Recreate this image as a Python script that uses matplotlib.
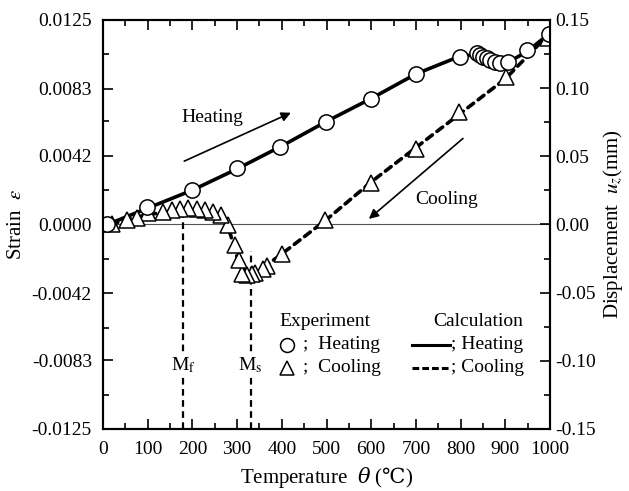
import matplotlib.pyplot as plt
from matplotlib.lines import Line2D
from matplotlib.ticker import MultipleLocator, FixedLocator

plt.rcParams['font.family'] = ['Liberation Serif', 'DejaVu Serif']
plt.rcParams['mathtext.fontset'] = 'stix'

# experiment - heating (circles)
heat_T = [10, 98, 198, 299, 397, 499, 600, 700, 799, 836, 843, 850, 858, 866, 877, 888, 906, 948, 998]
heat_eps = [0.0, 0.00109, 0.0021, 0.00345, 0.00476, 0.00628, 0.00767, 0.00918, 0.01026, 0.01046,
            0.01036, 0.01026, 0.01016, 0.01005, 0.00995, 0.00989, 0.00995, 0.01067, 0.01164]

# experiment - cooling (triangles)
cool_T = [996, 902, 797, 700, 599, 497, 400, 366, 358, 340, 333, 321, 310, 304, 295, 280,
          265, 247, 228, 210, 191, 172, 154, 135, 101, 75, 53, 19]
cool_eps = [0.0114, 0.0090, 0.0069, 0.00461, 0.00253, 0.00027, -0.0018, -0.00254, -0.0027, -0.00298,
            -0.0030, -0.0031, -0.0030, -0.00217, -0.00125, -0.00003,
            0.00058, 0.00078, 0.00089, 0.00093, 0.00099, 0.00093, 0.00089, 0.00078, 0.00068,
            0.00038, 0.00028, 0.0]

# calculation
calc_heat_T = [10, 100, 200, 300, 400, 500, 600, 700, 800, 850, 906, 950, 1000]
calc_heat_eps = [0.0, 0.0010, 0.0021, 0.0034, 0.0048, 0.0063, 0.0077, 0.0092, 0.0103, 0.0104,
                 0.0099, 0.0106, 0.0117]
calc_cool_T = [1000, 900, 800, 700, 600, 500, 400, 340, 320, 300, 285, 270, 250, 200, 150, 100, 50, 20]
calc_cool_eps = [0.0117, 0.0089, 0.0068, 0.0047, 0.0026, 0.0003, -0.0018, -0.0030, -0.0030, -0.0020,
                 -0.0006, 0.0004, 0.0007, 0.0009, 0.0008, 0.0006, 0.0003, 0.0]

Mf, Ms = 180, 330
eps_ticks = [-0.0125, -0.0083, -0.0042, 0.0, 0.0042, 0.0083, 0.0125]
eps_labels = ['-0.0125', '-0.0083', '-0.0042', '0.0000', '0.0042', '0.0083', '0.0125']
uz_ticks = [-0.15, -0.10, -0.05, 0.0, 0.05, 0.10, 0.15]
uz_labels = ['-0.15', '-0.10', '-0.05', '0.00', '0.05', '0.10', '0.15']

fig = plt.figure(figsize=(6.29, 4.91), dpi=100)
ax = fig.add_axes([0.1638, 0.1263, 0.7106, 0.8330])
ax2 = ax.twinx()

ax.axhline(0, color='#555555', lw=0.8, zorder=1)

ax.plot(calc_heat_T, calc_heat_eps, color='black', lw=2.6, zorder=2)
ax.plot(calc_cool_T, calc_cool_eps, color='black', lw=2.6, ls=(0, (2.0, 1.6)),
        dash_capstyle='round', zorder=2)
ax.plot(heat_T, heat_eps, ls='none', marker='o', ms=11, mfc='white', mec='black', mew=1.1, zorder=4)
ax.plot(cool_T, cool_eps, ls='none', marker='^', ms=11, mfc='white', mec='black', mew=1.1, zorder=3)

# transformation temperatures
ax.plot([Mf, Mf], [-0.0125, 0.0010], color='black', lw=1.6, ls=(0, (3, 2)), zorder=1)
ax.plot([Ms, Ms], [-0.0125, -0.0016], color='black', lw=1.6, ls=(0, (3, 2)), zorder=1)
ax.text(Mf, -0.0086, r'M$_\mathrm{f}$', ha='center', va='center', fontsize=14,
        bbox=dict(fc='white', ec='none', pad=1.5), zorder=5)
ax.text(Ms, -0.0086, r'M$_\mathrm{s}$', ha='center', va='center', fontsize=14,
        bbox=dict(fc='white', ec='none', pad=1.5), zorder=5)

# arrows
ax.annotate('', xy=(426, 0.0069), xytext=(176, 0.0038),
            arrowprops=dict(arrowstyle='-|>', color='black', lw=1.2, mutation_scale=14))
ax.text(244, 0.00656, 'Heating', ha='center', va='center', fontsize=14)
ax.annotate('', xy=(590, 0.00023), xytext=(810, 0.00537),
            arrowprops=dict(arrowstyle='-|>', color='black', lw=1.2, mutation_scale=14))
ax.text(769, 0.0015, 'Cooling', ha='center', va='center', fontsize=14)

# legend
tr = ax.transAxes
ax.text(0.394, 0.262, 'Experiment', transform=tr, fontsize=14, va='center', ha='left')
ax.add_line(Line2D([0.412], [0.206], transform=tr, marker='o', ms=10, mfc='white', mec='black', mew=1.1))
ax.add_line(Line2D([0.412], [0.150], transform=tr, marker='^', ms=10, mfc='white', mec='black', mew=1.1))
ax.text(0.448, 0.206, ';  Heating', transform=tr, fontsize=14, va='center', ha='left')
ax.text(0.448, 0.150, ';  Cooling', transform=tr, fontsize=14, va='center', ha='left')
ax.text(0.738, 0.262, 'Calculation', transform=tr, fontsize=14, va='center', ha='left')
ax.add_line(Line2D([0.691, 0.776], [0.206, 0.206], transform=tr, color='black', lw=2.2))
ax.add_line(Line2D([0.691, 0.776], [0.150, 0.150], transform=tr, color='black', lw=2.2, ls=(0, (2.2, 1.0))))
ax.text(0.779, 0.206, '; Heating', transform=tr, fontsize=14, va='center', ha='left')
ax.text(0.779, 0.150, '; Cooling', transform=tr, fontsize=14, va='center', ha='left')

ax.set_xlim(0, 1000)
ax.set_ylim(-0.0125, 0.0125)
ax2.set_ylim(-0.15, 0.15)

ax.xaxis.set_major_locator(MultipleLocator(100))
ax.xaxis.set_minor_locator(MultipleLocator(50))
ax.yaxis.set_major_locator(FixedLocator(eps_ticks))
ax.set_yticklabels(eps_labels)
ax.yaxis.set_minor_locator(FixedLocator([-0.0104, -0.0063, -0.0021, 0.0021, 0.0063, 0.0104]))
ax2.yaxis.set_major_locator(FixedLocator(uz_ticks))
ax2.set_yticklabels(uz_labels)
ax2.yaxis.set_minor_locator(MultipleLocator(0.025))

ax.tick_params(axis='both', which='both', direction='in', labelsize=14, width=1.2)
ax.tick_params(axis='x', which='both', top=True, pad=9)
ax.tick_params(axis='y', which='both', pad=8)
ax.tick_params(which='major', length=7)
ax.tick_params(which='minor', length=4)
ax2.tick_params(which='both', direction='in', labelsize=14, width=1.2)
ax2.tick_params(which='major', length=7)
ax2.tick_params(which='minor', length=4)
for a in (ax, ax2):
    for s in a.spines.values():
        s.set_linewidth(1.5)

ax.set_xlabel(r'Temperature  $\theta$ ($\mathrm{℃}$)', fontsize=15, labelpad=5,
              math_fontfamily='dejavuserif')
ax.set_ylabel(r'Strain  $\varepsilon$', fontsize=15, labelpad=4)
ax2.set_ylabel(r'Displacement  $u_z$(mm)', fontsize=15, labelpad=4)

fig.savefig('out.png', dpi=100)
